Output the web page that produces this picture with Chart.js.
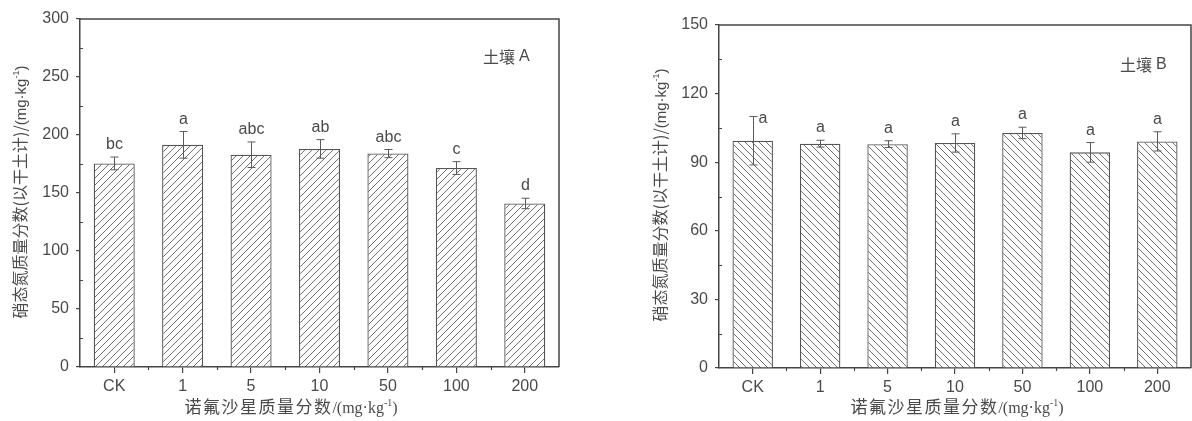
<!DOCTYPE html>
<html>
<head>
<meta charset="utf-8">
<script src="https://cdn.jsdelivr.net/npm/chart.js@4.4.1/dist/chart.umd.min.js"></script>
<style>
  html, body { margin: 0; padding: 0; background: #fff; }
  #wrap { position: relative; width: 1192px; height: 421px; overflow: hidden; }
  .panel { position: absolute; top: 0; width: 596px; height: 421px; }
</style>
</head>
<body>
<div id="wrap">
  <div class="panel" style="left:0"><canvas id="soilA" width="596" height="421"></canvas></div>
  <div class="panel" style="left:596px"><canvas id="soilB" width="596" height="421"></canvas></div>
</div>
<script>
// Norfloxacin dose groups (mg/kg)
const categories = ['CK', '1', '5', '10', '50', '100', '200'];

// Soil A: nitrate-N (mg/kg dry soil), standard deviation, significance letters
const soilAValues = [175.5, 191.5, 183, 188, 184, 171.5, 141];
const soilAErrors = [5.5, 11.5, 11, 8, 3.5, 5.5, 4.5];
const soilALetters = ['bc', 'a', 'abc', 'ab', 'abc', 'c', 'd'];
const soilATicks = [0, 50, 100, 150, 200, 250, 300];

// Soil B
const soilBValues = [99.4, 98.1, 97.9, 98.4, 102.8, 94.3, 99.1];
const soilBErrors = [10.6, 1.5, 1.5, 4, 2.5, 4.3, 4.2];
const soilBLetters = ['a', 'a', 'a', 'a', 'a', 'a', 'a'];
const soilBTicks = [0, 30, 60, 90, 120, 150];

const AXIS = '#454545';
const TEXT = '#4a4a4a';
const SANS = '"Liberation Sans", Arial, sans-serif';
const TICK_FONT = { family: SANS, size: 16 };

function hatchPattern(forward) {
  const s = 7;
  const c = document.createElement('canvas');
  c.width = s; c.height = s;
  const g = c.getContext('2d');
  g.fillStyle = '#fff';
  g.fillRect(0, 0, s, s);
  g.strokeStyle = '#707070';
  g.lineWidth = 1;
  g.beginPath();
  if (forward) {
    g.moveTo(0, s); g.lineTo(s, 0);
    g.moveTo(-1, 1); g.lineTo(1, -1);
    g.moveTo(s - 1, s + 1); g.lineTo(s + 1, s - 1);
  } else {
    g.moveTo(0, 0); g.lineTo(s, s);
    g.moveTo(s - 1, -1); g.lineTo(s + 1, 1);
    g.moveTo(-1, s - 1); g.lineTo(1, s + 1);
  }
  g.stroke();
  return document.createElement('canvas').getContext('2d').createPattern(c, 'repeat');
}

// draws a run of text pieces, some of them superscript, centred on (x, y)
function drawRich(ctx, parts, x, y, rotate) {
  ctx.save();
  ctx.translate(x, y);
  if (rotate) ctx.rotate(-Math.PI / 2);
  let total = 0;
  parts.forEach(p => {
    ctx.font = p.font;
    ctx.letterSpacing = (p.ls || 0) + 'px';
    p.w = ctx.measureText(p.t).width;
    total += p.w;
  });
  let cx = -total / 2;
  ctx.fillStyle = TEXT;
  ctx.textBaseline = 'alphabetic';
  ctx.textAlign = 'left';
  parts.forEach(p => {
    ctx.font = p.font;
    ctx.letterSpacing = (p.ls || 0) + 'px';
    ctx.fillText(p.t, cx, p.sup ? -1 : 6);
    cx += p.w;
  });
  ctx.letterSpacing = '0px';
  ctx.restore();
}

const decorPlugin = {
  id: 'decor',
  afterDatasetsDraw(chart, args, opts) {
    const { ctx, chartArea: a, scales: { x, y } } = chart;
    ctx.save();
    // frame: top and right edges
    ctx.strokeStyle = AXIS;
    ctx.lineWidth = 1.5;
    ctx.beginPath();
    ctx.moveTo(a.left, a.top); ctx.lineTo(a.right, a.top); ctx.lineTo(a.right, a.bottom);
    ctx.stroke();

    // minor ticks
    ctx.lineWidth = 1.2;
    ctx.beginPath();
    opts.minor.forEach(v => {
      const py = Math.round(y.getPixelForValue(v)) + 0.5;
      ctx.moveTo(a.left, py); ctx.lineTo(a.left + 3, py);
    });
    for (let i = 0; i < categories.length - 1; i++) {
      const px = Math.round((x.getPixelForValue(i) + x.getPixelForValue(i + 1)) / 2) + 0.5;
      ctx.moveTo(px, a.bottom); ctx.lineTo(px, a.bottom + 3);
    }
    ctx.stroke();

    // error bars and significance letters
    ctx.strokeStyle = '#5a5a5a';
    ctx.lineWidth = 1;
    ctx.font = '16px ' + SANS;
    ctx.fillStyle = TEXT;
    opts.values.forEach((v, i) => {
      const cx = Math.round(x.getPixelForValue(i)) + 0.5;
      const yt = y.getPixelForValue(v + opts.errors[i]);
      const yb = y.getPixelForValue(v - opts.errors[i]);
      ctx.beginPath();
      ctx.moveTo(cx, yt); ctx.lineTo(cx, yb);
      ctx.moveTo(cx - 4, yt); ctx.lineTo(cx + 4, yt);
      ctx.moveTo(cx - 4, yb); ctx.lineTo(cx + 4, yb);
      ctx.stroke();
      if (opts.sideLabels.includes(i)) {
        ctx.textAlign = 'left';
        ctx.fillText(opts.letters[i], cx + 5, yt + 7);
      } else {
        ctx.textAlign = 'center';
        ctx.fillText(opts.letters[i], cx, yt - 8);
      }
    });

    // panel label
    ctx.textAlign = 'left';
    ctx.textBaseline = 'middle';
    ctx.font = '16px "Noto Sans CJK SC", sans-serif';
    const tw = ctx.measureText(opts.tag[0]).width;
    ctx.fillText(opts.tag[0], opts.tagPos[0], opts.tagPos[1]);
    ctx.font = '16px ' + SANS;
    ctx.fillText(opts.tag[1], opts.tagPos[0] + tw + 4, opts.tagPos[1]);

    // axis titles
    const cjk = '16px "Noto Sans CJK SC", sans-serif';
    const lat = '15px ' + SANS;
    drawRich(ctx, [
      { t: '硝态氮质量分数(以干土计)/', font: cjk },
      { t: '(mg·kg', font: lat },
      { t: '-1', font: '9px ' + SANS, sup: true },
      { t: ')', font: lat }
    ], opts.yTitle[0], opts.yTitle[1], true);
    const cjkX = '17px "Noto Sans CJK SC", sans-serif';
    const serif = '16px "Liberation Serif", "Times New Roman", serif';
    drawRich(ctx, [
      { t: '诺氟沙星质量分数', font: cjkX, ls: 1.5 },
      { t: '/(mg·kg', font: serif },
      { t: '-1', font: '10px "Liberation Serif", serif', sup: true },
      { t: ')', font: serif }
    ], opts.xTitle[0], opts.xTitle[1], false);
    ctx.restore();
  }
};

function makeChart(id, values, errors, letters, ticks, forward, layout, decor) {
  const max = ticks[ticks.length - 1];
  const step = ticks[1] - ticks[0];
  const minor = ticks.slice(0, -1).map(t => t + step / 2);
  return new Chart(document.getElementById(id), {
    type: 'bar',
    data: {
      labels: categories,
      datasets: [{
        data: values,
        backgroundColor: hatchPattern(forward),
        borderColor: '#555',
        borderWidth: 1.3,
        borderSkipped: 'bottom',
        barPercentage: 0.6,
        categoryPercentage: 1
      }]
    },
    options: {
      responsive: false,
      animation: false,
      events: [],
      layout: { padding: layout.padding },
      plugins: {
        legend: { display: false },
        tooltip: { enabled: false },
        decor: Object.assign({ values, errors, letters, minor }, decor)
      },
      scales: {
        x: {
          offset: true,
          grid: { display: true, drawOnChartArea: false, offset: false, tickLength: 6, color: AXIS, lineWidth: 1.2 },
          border: { display: true, color: AXIS, width: 1.5 },
          ticks: { color: TEXT, font: TICK_FONT, padding: 4, maxRotation: 0 },
          afterFit: s => { s.height = layout.xHeight; }
        },
        y: {
          min: 0, max: max,
          grid: { display: true, drawOnChartArea: false, tickLength: 4, color: AXIS, lineWidth: 1.2 },
          border: { display: true, color: AXIS, width: 1.5 },
          ticks: { color: TEXT, font: TICK_FONT, padding: 7, stepSize: step, autoSkip: false },
          afterBuildTicks: s => { s.ticks = ticks.map(v => ({ value: v })); },
          afterFit: s => { s.width = layout.yWidth; }
        }
      }
    },
    plugins: [decorPlugin]
  });
}

makeChart('soilA', soilAValues, soilAErrors, soilALetters, soilATicks, true,
  { padding: { top: 19, right: 37, bottom: 0, left: 0 }, yWidth: 80, xHeight: 54 },
  { sideLabels: [], tag: ['土壤', 'A'], tagPos: [483, 57], yTitle: [20, 192], xTitle: [291, 407] });

makeChart('soilB', soilBValues, soilBErrors, soilBLetters, soilBTicks, false,
  { padding: { top: 25, right: 1, bottom: 0, left: 0 }, yWidth: 123, xHeight: 53 },
  { sideLabels: [0], tag: ['土壤', 'B'], tagPos: [524, 65], yTitle: [64, 195], xTitle: [361, 407] });
</script>
</body>
</html>
